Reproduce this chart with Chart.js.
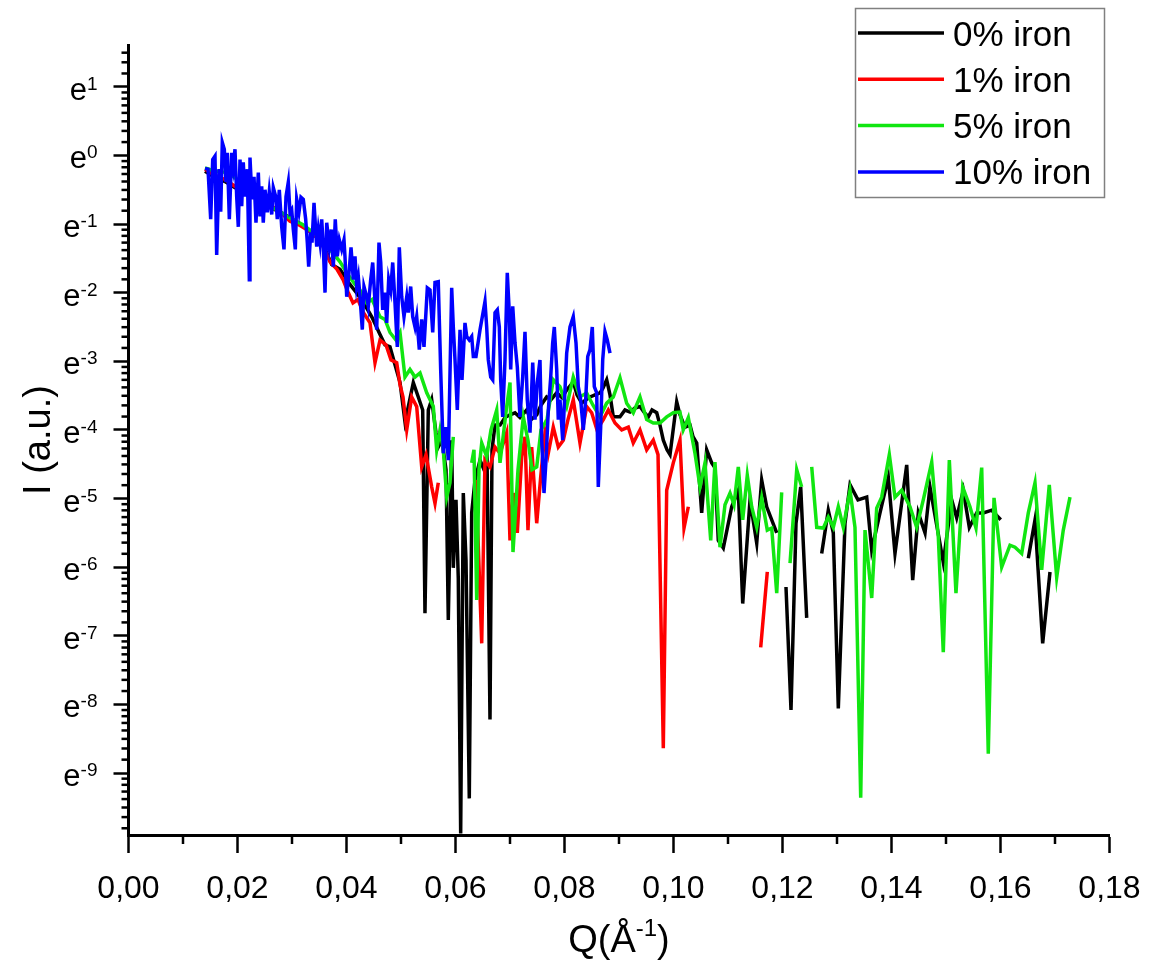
<!DOCTYPE html>
<html>
<head>
<meta charset="utf-8">
<title>I(Q) iron series</title>
<script src="https://cdn.jsdelivr.net/npm/chart.js@4.4.0/dist/chart.umd.min.js"></script>
<style>
  body { margin: 0; background: #fff; }
  #chart { display: block; }
</style>
</head>
<body>
<canvas id="chart" width="1150" height="967"></canvas>
<script>
const FONT = "'Liberation Sans', Arial, sans-serif";

// axis ticks (y in units of ln I, so tick n means e^n)
const xTicks = [0, 0.02, 0.04, 0.06, 0.08, 0.10, 0.12, 0.14, 0.16, 0.18];
const xMinorTicks = [0.01, 0.03, 0.05, 0.07, 0.09, 0.11, 0.13, 0.15, 0.17];
const yTicks = [-9, -8, -7, -6, -5, -4, -3, -2, -1, 0, 1];
const yMin = Math.log(0.00005);
const yMax = Math.log(5);

// [Q (1/A), ln I]; null = gap in the curve
const iron0 = [[0.01404,-0.23],[0.01587,-0.32],[0.01771,-0.38],[0.01954,-0.47],[0.02138,-0.53],[0.02321,-0.61],[0.02505,-0.72],[0.02688,-0.79],[0.02872,-0.86],[0.03055,-0.96],[0.03239,-1.05],[0.03422,-1.17],[0.03550,-1.26],[0.03728,-1.59],[0.03881,-1.66],[0.04064,-1.88],[0.04211,-2.03],[0.04339,-2.18],[0.04468,-2.36],[0.04615,-2.61],[0.04706,-2.76],[0.04798,-2.79],[0.04890,-3.05],[0.04982,-3.31],[0.05073,-3.88],[0.05134,-3.66],[0.05226,-3.31],[0.05317,-3.52],[0.05398,-3.71],[0.05440,-6.67],[0.05501,-3.71],[0.05563,-3.56],[0.05642,-4.04],[0.05684,-4.25],[0.05752,-4.15],[0.05826,-4.58],[0.05868,-6.77],[0.05930,-4.15],[0.05960,-6.01],[0.06009,-5.02],[0.06051,-6.16],[0.06095,-9.88],[0.06143,-4.92],[0.06193,-5.90],[0.06253,-9.37],[0.06297,-5.21],[0.06358,-4.73],[0.06450,-4.44],[0.06523,-4.58],[0.06578,-4.36],[0.06633,-8.22],[0.06670,-4.29],[0.06725,-3.93],[0.06817,-3.93],[0.06908,-3.82],[0.07000,-3.78],[0.07092,-3.75],[0.07183,-3.82],[0.07306,-3.71],[0.07385,-3.85],[0.07490,-3.78],[0.07569,-3.64],[0.07673,-3.52],[0.07752,-3.56],[0.07857,-3.46],[0.07954,-3.53],[0.08040,-3.42],[0.08161,-3.30],[0.08229,-3.49],[0.08316,-3.61],[0.08394,-3.56],[0.08468,-3.52],[0.08560,-3.49],[0.08651,-3.46],[0.08706,-3.39],[0.08774,-3.27],[0.08835,-3.49],[0.08895,-3.81],[0.09018,-3.81],[0.09110,-3.71],[0.09202,-3.74],[0.09294,-3.68],[0.09385,-3.66],[0.09459,-3.74],[0.09538,-3.81],[0.09606,-3.71],[0.09692,-3.75],[0.09752,-3.93],[0.09813,-4.15],[0.09881,-4.29],[0.09936,-4.36],[0.10059,-3.59],[0.10119,-3.78],[0.10211,-3.96],[0.10303,-3.93],[0.10358,-4.10],[0.10426,-4.19],[0.10517,-5.21],[0.10609,-4.29],[0.10701,-4.48],[0.10761,-4.55],[0.10822,-5.61],[0.10914,-5.72],[0.11068,-5.12],[0.11189,-4.88],[0.11270,-6.53],[0.11404,-5.02],[0.11527,-5.65],[0.11618,-4.73],[0.11710,-5.12],[0.11894,-5.50],[0.1198,null],[0.12064,-6.29],[0.12156,-8.08],[0.12248,-5.36],[0.12334,-4.83],[0.12444,-6.74],[0.1258,null],[0.12719,-5.80],[0.12840,-5.17],[0.12932,-5.50],[0.13024,-8.06],[0.13147,-5.36],[0.13239,-4.80],[0.13385,-5.02],[0.13545,-4.98],[0.13637,-5.75],[0.13789,-5.21],[0.13941,-4.69],[0.14064,-5.80],[0.14279,-4.51],[0.14389,-6.19],[0.14492,-5.21],[0.14615,-5.50],[0.14706,-4.83],[0.14950,-5.93],[0.15105,-5.02],[0.15196,-5.28],[0.15317,-4.88],[0.15428,-5.42],[0.15563,-5.21],[0.15684,-5.21],[0.15839,-5.17],[0.16004,-5.31],[0.1630,null],[0.16510,-5.87],[0.16633,-5.31],[0.16774,-7.11],[0.16908,-6.07]];

const iron1 = [[0.01404,-0.20],[0.01587,-0.29],[0.01771,-0.35],[0.01954,-0.45],[0.02138,-0.50],[0.02261,-0.39],[0.02413,-0.61],[0.02596,-0.72],[0.02780,-0.82],[0.02963,-0.96],[0.03147,-1.02],[0.03330,-1.11],[0.03514,-1.23],[0.03697,-1.55],[0.03826,-1.66],[0.03936,-1.81],[0.04028,-1.99],[0.04119,-2.15],[0.04211,-2.10],[0.04303,-2.28],[0.04431,-2.44],[0.04523,-3.02],[0.04615,-2.69],[0.04725,-2.76],[0.04817,-2.98],[0.04921,-3.02],[0.04982,-3.34],[0.05037,-3.52],[0.05105,-4.00],[0.05196,-3.52],[0.05288,-3.66],[0.05380,-4.54],[0.05459,-4.36],[0.05563,-4.83],[0.05624,-5.07],[0.05684,-4.77],[0.0600,null],[0.06376,-4.73],[0.06481,-7.11],[0.06541,-4.44],[0.06633,-4.54],[0.06725,-4.25],[0.06817,-4.34],[0.06939,-4.04],[0.07000,-5.61],[0.07061,-4.92],[0.07134,-5.50],[0.07215,-4.39],[0.07275,-4.10],[0.07330,-5.46],[0.07398,-4.25],[0.07490,-5.36],[0.07563,-4.69],[0.07642,-4.04],[0.07703,-4.34],[0.07794,-3.96],[0.07886,-4.25],[0.07978,-4.15],[0.08064,-3.85],[0.08161,-3.56],[0.08284,-4.19],[0.08407,-3.66],[0.08499,-3.75],[0.08596,-4.00],[0.08712,-3.85],[0.08804,-3.71],[0.08927,-3.90],[0.09050,-4.00],[0.09171,-3.96],[0.09262,-4.19],[0.09385,-4.00],[0.09508,-4.29],[0.09629,-4.15],[0.09716,-4.36],[0.09813,-8.64],[0.09875,-4.88],[0.09996,-4.48],[0.10119,-4.15],[0.10193,-5.43],[0.10272,-5.12],[0.1100,null],[0.11600,-7.17],[0.11721,-6.07]];

const iron5 = [[0.01404,-0.18],[0.01587,-0.23],[0.01826,-0.25],[0.02046,-0.38],[0.02229,-0.47],[0.02413,-0.57],[0.02596,-0.74],[0.02780,-0.82],[0.02963,-0.91],[0.03202,-1.01],[0.03367,-1.11],[0.03514,-1.20],[0.03697,-1.37],[0.03881,-1.55],[0.04004,-1.71],[0.04156,-1.88],[0.04248,-1.96],[0.04371,-2.15],[0.04468,-2.10],[0.04615,-2.35],[0.04706,-2.39],[0.04798,-2.58],[0.04908,-2.69],[0.04982,-2.58],[0.05073,-3.23],[0.05165,-3.12],[0.05257,-3.23],[0.05349,-3.17],[0.05472,-3.46],[0.05593,-3.66],[0.05655,-4.29],[0.05716,-4.00],[0.05776,-4.29],[0.05839,-4.98],[0.05899,-4.77],[0.05960,-4.10],[0.0615,null],[0.06297,-4.48],[0.06339,-4.29],[0.06389,-6.48],[0.06431,-4.58],[0.06481,-4.19],[0.06572,-4.39],[0.06651,-4.00],[0.06756,-3.71],[0.06817,-4.48],[0.06939,-3.66],[0.07000,-3.31],[0.07055,-5.78],[0.07147,-4.58],[0.07244,-3.81],[0.07330,-4.15],[0.07404,-4.58],[0.07490,-4.54],[0.07569,-4.00],[0.07679,-3.85],[0.07794,-3.27],[0.07917,-3.37],[0.08040,-3.66],[0.08161,-3.23],[0.08284,-3.52],[0.08407,-3.46],[0.08523,-3.64],[0.08651,-3.81],[0.08774,-3.61],[0.08895,-3.52],[0.09018,-3.24],[0.09141,-3.61],[0.09262,-3.75],[0.09385,-3.52],[0.09508,-3.85],[0.09629,-3.90],[0.09752,-3.90],[0.09875,-3.81],[0.09996,-3.75],[0.10119,-3.74],[0.10179,-4.00],[0.10272,-3.82],[0.10394,-4.34],[0.10486,-4.83],[0.10578,-4.48],[0.10683,-5.61],[0.10761,-4.47],[0.10853,-5.71],[0.10945,-5.09],[0.11037,-4.92],[0.11110,-5.09],[0.11189,-4.54],[0.11270,-5.31],[0.11354,-4.66],[0.11435,-5.12],[0.11527,-5.42],[0.11618,-4.99],[0.11721,-5.46],[0.11802,-5.43],[0.11894,-6.38],[0.11985,-4.91],[0.1206,null],[0.12138,-5.94],[0.12261,-4.58],[0.12352,-4.83],[0.1245,null],[0.12536,-4.54],[0.12628,-5.42],[0.12749,-5.43],[0.12840,-5.27],[0.12932,-5.42],[0.13024,-5.12],[0.13116,-5.42],[0.13239,-4.88],[0.13330,-5.42],[0.13435,-9.36],[0.13514,-5.46],[0.13637,-6.45],[0.13728,-5.14],[0.13820,-4.98],[0.13960,-4.36],[0.14064,-4.98],[0.14187,-4.88],[0.14339,-5.12],[0.14462,-5.42],[0.14583,-5.02],[0.14738,-4.47],[0.14859,-5.56],[0.14950,-7.24],[0.15061,-4.44],[0.15183,-6.38],[0.15306,-4.83],[0.15440,-5.12],[0.15550,-5.43],[0.15655,-4.55],[0.15776,-8.72],[0.15881,-4.99],[0.16022,-6.00],[0.16174,-5.68],[0.16266,-5.71],[0.16389,-5.80],[0.16510,-5.21],[0.16633,-4.77],[0.16756,-6.04],[0.16895,-4.80],[0.17031,-6.15],[0.17152,-5.46],[0.17275,-4.98]];

const iron10 = [[0.01404,-0.19],[0.01459,-0.20],[0.01508,-0.93],[0.01545,-0.06],[0.01587,-0.01],[0.01618,-1.45],[0.01661,-0.20],[0.01692,-0.82],[0.01721,0.19],[0.01758,0.09],[0.01789,-0.39],[0.01813,0.04],[0.01850,-0.93],[0.01894,0.04],[0.01923,-0.16],[0.01954,0.09],[0.01985,-0.60],[0.02015,-1.04],[0.02046,-0.06],[0.02077,-0.74],[0.02106,-0.10],[0.02138,-0.60],[0.02180,-0.20],[0.02217,-1.81],[0.02229,-0.03],[0.02266,-0.64],[0.02303,-0.31],[0.02339,-0.98],[0.02382,-0.25],[0.02413,-0.89],[0.02444,-0.45],[0.02473,-0.98],[0.02505,-0.50],[0.02547,-0.83],[0.02583,-0.53],[0.02628,-0.86],[0.02657,-0.47],[0.02701,-0.60],[0.02730,-0.93],[0.02767,-0.50],[0.02811,-1.04],[0.02853,-1.37],[0.02890,-0.60],[0.02932,-0.39],[0.02963,-0.83],[0.02994,-0.79],[0.03024,-1.08],[0.03061,-1.37],[0.03086,-0.64],[0.03128,-0.83],[0.03165,-0.61],[0.03207,-0.64],[0.03251,-0.93],[0.03281,-1.27],[0.03306,-1.62],[0.03343,-1.12],[0.03367,-1.27],[0.03404,-0.69],[0.03453,-1.33],[0.03483,-1.08],[0.03514,-1.27],[0.03545,-0.93],[0.03574,-1.33],[0.03606,-2.00],[0.03637,-0.98],[0.03684,-1.33],[0.03721,-1.08],[0.03758,-1.62],[0.03794,-0.93],[0.03831,-1.47],[0.03868,-1.23],[0.03912,-1.37],[0.03954,-1.23],[0.03972,-1.47],[0.04004,-2.06],[0.04051,-1.66],[0.04083,-1.34],[0.04125,-1.81],[0.04156,-1.47],[0.04187,-1.91],[0.04217,-1.77],[0.04248,-2.06],[0.04290,-2.54],[0.04321,-1.91],[0.04371,-2.06],[0.04400,-2.20],[0.04444,-1.81],[0.04481,-1.56],[0.04510,-1.96],[0.04554,-2.54],[0.04596,-1.27],[0.04628,-1.56],[0.04664,-2.25],[0.04706,-2.00],[0.04738,-2.44],[0.04774,-1.81],[0.04811,-1.96],[0.04848,-1.56],[0.04890,-2.15],[0.04932,-2.79],[0.04969,-1.34],[0.05013,-2.06],[0.05055,-2.35],[0.05105,-2.06],[0.05134,-2.29],[0.05178,-1.91],[0.05215,-2.35],[0.05257,-2.50],[0.05288,-2.35],[0.05336,-2.83],[0.05380,-2.39],[0.05422,-2.79],[0.05483,-1.93],[0.05532,-1.96],[0.05582,-2.58],[0.05624,-1.85],[0.05684,-1.84],[0.05728,-3.12],[0.05776,-4.34],[0.05826,-3.96],[0.05868,-4.44],[0.05930,-1.93],[0.05960,-2.50],[0.05991,-2.98],[0.06033,-3.71],[0.06083,-2.54],[0.06119,-3.27],[0.06174,-2.44],[0.06206,-2.64],[0.06253,-2.69],[0.06297,-2.64],[0.06327,-2.93],[0.06376,-2.93],[0.06450,-2.54],[0.06541,-2.13],[0.06572,-2.50],[0.06602,-2.98],[0.06646,-3.23],[0.06683,-3.27],[0.06725,-2.29],[0.06767,-2.25],[0.06804,-2.50],[0.06829,-3.27],[0.06866,-3.81],[0.06908,-2.98],[0.06950,-1.71],[0.06987,-2.29],[0.07013,-3.12],[0.07050,-2.20],[0.07092,-2.73],[0.07134,-3.08],[0.07183,-3.81],[0.07233,-3.23],[0.07275,-2.57],[0.07317,-3.56],[0.07367,-4.04],[0.07417,-3.02],[0.07459,-3.85],[0.07501,-3.31],[0.07550,-2.98],[0.07582,-4.15],[0.07624,-4.92],[0.07661,-4.44],[0.07703,-3.71],[0.07747,-3.23],[0.07783,-2.73],[0.07813,-2.50],[0.07857,-3.12],[0.07886,-3.85],[0.07917,-3.56],[0.07967,-4.15],[0.08040,-2.88],[0.08101,-2.50],[0.08161,-2.35],[0.08211,-2.73],[0.08253,-3.37],[0.08297,-3.56],[0.08345,-4.00],[0.08389,-3.56],[0.08426,-2.93],[0.08468,-2.83],[0.08510,-2.50],[0.08547,-3.37],[0.08591,-3.46],[0.08620,-4.83],[0.08664,-3.96],[0.08701,-2.98],[0.08743,-2.57],[0.08785,-2.69],[0.08835,-2.88]];

const seriesLabels = ['0% iron', '1% iron', '5% iron', '10% iron'];
const seriesColors = ['#000000', '#ff0000', '#11e611', '#0000ff'];
const seriesPoints = [iron0, iron1, iron5, iron10];

function line(ctx, x1, y1, x2, y2) {
  ctx.beginPath();
  ctx.moveTo(x1, y1);
  ctx.lineTo(x2, y2);
  ctx.stroke();
}

// Origin style extras: minor ticks, e^n labels, axis titles, legend box
const decor = {
  id: 'decor',
  afterDraw(chart) {
    const {ctx, chartArea: a, scales: {x, y}} = chart;
    ctx.save();
    ctx.strokeStyle = '#000';
    ctx.lineWidth = 2.5;

    xMinorTicks.forEach(v => {
      const px = x.getPixelForValue(v);
      line(ctx, px, a.bottom, px, a.bottom + 9);
    });

    // minor ticks sit linearly between e^n and e^(n+1)
    for (let n = -10; n <= 1; n++) {
      for (let j = 1; j <= 7; j++) {
        const v = n + Math.log(1 + j * (Math.E - 1) / 8);
        if (v < yMin || v > yMax) continue;
        const py = y.getPixelForValue(v);
        line(ctx, a.left - 7, py, a.left, py);
      }
    }

    ctx.fillStyle = '#000';
    ctx.textBaseline = 'alphabetic';
    ctx.textAlign = 'left';
    yTicks.forEach(n => {
      const py = y.getPixelForValue(n);
      const sup = String(n);
      ctx.font = `19px ${FONT}`;
      const ws = ctx.measureText(sup).width;
      ctx.font = `31px ${FONT}`;
      const we = ctx.measureText('e').width;
      const right = a.left - 31;
      ctx.fillText('e', right - ws - we, py + 13);
      ctx.font = `19px ${FONT}`;
      ctx.fillText(sup, right - ws, py + 3);
    });

    // y title
    ctx.save();
    ctx.translate(50, (a.top + a.bottom) / 2);
    ctx.rotate(-Math.PI / 2);
    ctx.font = `38px ${FONT}`;
    ctx.textAlign = 'center';
    ctx.fillText('I (a.u.)', 0, 0);
    ctx.restore();

    // x title Q(Å^-1)
    const cx = (a.left + a.right) / 2;
    const base = 952;
    ctx.font = `38px ${FONT}`;
    const w1 = ctx.measureText('Q(Å').width;
    const w3 = ctx.measureText(')').width;
    ctx.font = `24px ${FONT}`;
    const w2 = ctx.measureText('-1').width;
    let tx = cx - (w1 + w2 + w3) / 2;
    ctx.font = `38px ${FONT}`;
    ctx.fillText('Q(Å', tx, base);
    tx += w1;
    ctx.font = `24px ${FONT}`;
    ctx.fillText('-1', tx, base - 16);
    tx += w2;
    ctx.font = `38px ${FONT}`;
    ctx.fillText(')', tx, base);

    // legend
    ctx.fillStyle = '#fff';
    ctx.fillRect(855, 8, 250, 190);
    ctx.strokeStyle = '#808080';
    ctx.lineWidth = 1.5;
    ctx.strokeRect(855.5, 8.5, 249, 189);
    chart.data.datasets.forEach((ds, i) => {
      const ly = 33 + i * 46.3;
      ctx.strokeStyle = ds.borderColor;
      ctx.lineWidth = 3.5;
      line(ctx, 858, ly, 944, ly);
      ctx.fillStyle = '#000';
      ctx.font = `35px ${FONT}`;
      ctx.fillText(ds.label, 953, ly + 12.5);
    });
    ctx.restore();
  }
};

const chart = new Chart(document.getElementById('chart'), {
  type: 'line',
  data: {
    datasets: seriesPoints.map((pts, i) => ({
      label: seriesLabels[i],
      data: pts.map(p => ({x: p[0], y: p[1]})),
      borderColor: seriesColors[i],
      backgroundColor: seriesColors[i],
      borderWidth: 3.5,
      pointRadius: 0,
      tension: 0,
      spanGaps: false,
      fill: false,
      order: seriesPoints.length - i
    }))
  },
  options: {
    responsive: false,
    animation: false,
    devicePixelRatio: 1,
    layout: {padding: {left: 113.5, right: 40.5, top: 45, bottom: 41.6}},
    plugins: {
      legend: {display: false},
      tooltip: {enabled: false}
    },
    scales: {
      x: {
        type: 'linear',
        min: 0,
        max: 0.18,
        afterBuildTicks: s => { s.ticks = xTicks.map(v => ({value: v})); },
        // the end labels may hang past the plot edges, as in the original
        afterFit: s => { s.paddingLeft = 0; s.paddingRight = 0; },
        ticks: {
          callback: v => v.toFixed(2).replace('.', ','),
          font: {family: FONT, size: 32},
          color: '#000',
          padding: 17,
          maxRotation: 0,
          autoSkip: false
        },
        grid: {drawOnChartArea: false, drawTicks: true, tickLength: 18, tickWidth: 2.5, tickColor: '#000'},
        border: {display: true, color: '#000', width: 3}
      },
      y: {
        type: 'linear',
        min: yMin,
        max: yMax,
        afterBuildTicks: s => { s.ticks = yTicks.map(v => ({value: v})); },
        ticks: {display: false},
        grid: {drawOnChartArea: false, drawTicks: true, tickLength: 15, tickWidth: 2.5, tickColor: '#000'},
        border: {display: true, color: '#000', width: 3}
      }
    }
  },
  plugins: [decor]
});
</script>
</body>
</html>
